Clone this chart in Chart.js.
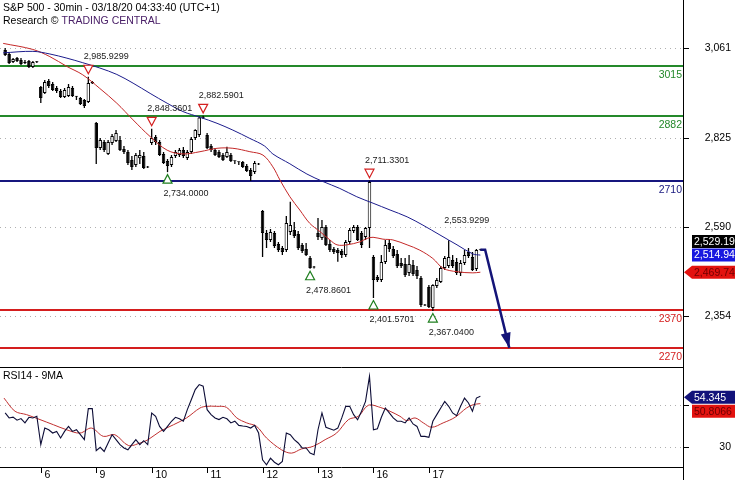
<!DOCTYPE html>
<html>
<head>
<meta charset="utf-8">
<script src="https://cdn.jsdelivr.net/npm/chart.js@4.4.1/dist/chart.umd.min.js"></script>
<style>
  html, body { margin: 0; padding: 0; background: #fff; }
  #wrap { position: relative; width: 735px; height: 480px; overflow: hidden; }
  #wrap canvas { position: absolute; left: 0; }
  #priceCanvas { top: 0; }
  #rsiCanvas { top: 367px; }
</style>
</head>
<body>
<div id="wrap">
  <canvas id="priceCanvas" width="735" height="367"></canvas>
  <canvas id="rsiCanvas" width="735" height="113"></canvas>
</div>
<script>
// --- axis / tick data ---
const dayLabels = ['6', '9', '10', '11', '12', '13', '16', '17'];
const dayStartIdx = [9, 23, 37, 51, 65, 79, 93, 107];
const priceTicks = [3061, 2825, 2590, 2354];
const rsiTicks = [50, 30];
const rsiTickLabels = ['', '30'];

// --- 30min candles (one entry per bar) ---
const opens = [
  3056.6, 3046.0, 3024.9, 3035.4, 3030.1, 3024.9, 3027.5, 3011.7, 3024.9,
  2958.8, 2943.0, 2974.7, 2966.8, 2956.2, 2948.3, 2932.4, 2935.1, 2956.2, 2934.0, 2929.8, 2924.5, 2919.2, 2972.0,
  2863.8, 2797.7, 2813.6, 2781.9, 2810.9, 2816.2, 2818.8, 2795.1, 2787.2, 2766.0, 2752.9, 2770.8, 2776.6, 2747.6,
  2811.0, 2826.8, 2813.6, 2781.9, 2763.4, 2752.9, 2776.6, 2779.2, 2792.4, 2771.3, 2787.2, 2824.1, 2832.1, 2878.0,
  2832.1, 2803.0, 2792.4, 2787.2, 2779.2, 2774.0, 2779.2, 2763.4, 2760.8, 2760.8, 2750.2, 2739.6, 2734.4, 2755.5,
  2631.3, 2573.2, 2554.8, 2573.2, 2544.2, 2533.6, 2528.3, 2575.9, 2581.2, 2570.6, 2541.6, 2531.0, 2507.2, 2483.4,
  2573.2, 2560.0, 2589.1, 2544.2, 2531.0, 2528.3, 2525.7, 2515.1, 2549.5, 2578.5, 2589.1, 2573.2, 2562.7, 2586.5,
  2509.9, 2457.0, 2449.1, 2496.7, 2546.8, 2531.0, 2517.8, 2494.0, 2491.4, 2467.6, 2488.7, 2475.5, 2454.4, 2383.1,
  2430.6, 2375.2, 2433.3, 2443.8, 2480.8, 2486.1, 2501.9, 2496.7, 2467.6, 2494.0, 2523.1, 2509.9, 2478.2, 2529.9
];
const highs = [
  3061.8, 3048.6, 3035.4, 3038.1, 3035.4, 3030.1, 3030.1, 3027.5, 3027.5,
  2961.5, 2977.3, 2980.0, 2972.0, 2961.5, 2953.6, 2956.2, 2966.8, 2961.5, 2935.1, 2932.4, 2927.2, 2985.93, 2974.7,
  2866.4, 2824.1, 2818.8, 2818.8, 2834.6, 2845.3, 2829.4, 2803.0, 2792.4, 2776.6, 2784.5, 2792.4, 2787.2, 2750.2,
  2848.36, 2832.1, 2818.8, 2787.2, 2768.7, 2779.2, 2792.4, 2797.7, 2800.4, 2792.4, 2826.8, 2847.0, 2881.0, 2882.59,
  2837.3, 2808.3, 2797.7, 2792.4, 2784.5, 2801.2, 2784.5, 2764.7, 2762.1, 2763.4, 2755.5, 2744.9, 2763.4, 2758.1,
  2634.0, 2581.2, 2583.8, 2578.5, 2549.5, 2538.9, 2618.1, 2655.9, 2602.3, 2578.5, 2546.8, 2546.8, 2512.5, 2486.1,
  2612.9, 2607.6, 2594.4, 2554.8, 2536.3, 2533.6, 2531.0, 2554.8, 2586.5, 2594.4, 2594.4, 2578.5, 2589.1, 2711.33,
  2515.1, 2462.3, 2515.1, 2554.8, 2554.8, 2538.9, 2528.3, 2507.2, 2507.2, 2515.1, 2501.9, 2486.1, 2459.7, 2385.7,
  2435.9, 2438.0, 2454.4, 2486.1, 2512.5, 2553.93, 2515.1, 2507.2, 2501.9, 2528.3, 2533.6, 2523.1, 2531.0, 2530.5
];
const lows = [
  3040.7, 3019.6, 3022.2, 3024.9, 3016.9, 3019.6, 3009.0, 3009.0, 3022.2,
  2916.6, 2940.3, 2956.2, 2948.3, 2943.0, 2929.8, 2929.8, 2932.4, 2932.4, 2924.5, 2911.3, 2903.4, 2916.6, 2966.8,
  2755.5, 2792.4, 2787.2, 2779.2, 2805.7, 2813.6, 2789.8, 2781.9, 2752.9, 2739.6, 2747.6, 2755.5, 2742.3, 2744.9,
  2805.7, 2805.7, 2776.6, 2755.5, 2734.0, 2747.6, 2771.3, 2774.0, 2771.3, 2766.0, 2781.9, 2818.8, 2826.8, 2874.3,
  2795.1, 2787.2, 2776.6, 2771.3, 2763.4, 2771.3, 2760.8, 2755.5, 2752.9, 2744.9, 2734.4, 2710.6, 2729.1, 2752.9,
  2509.9, 2533.6, 2549.5, 2533.6, 2523.1, 2515.2, 2523.1, 2568.0, 2560.0, 2528.3, 2520.4, 2512.5, 2478.86, 2479.5,
  2554.8, 2554.8, 2538.9, 2523.1, 2517.8, 2497.4, 2507.2, 2509.9, 2544.2, 2573.2, 2552.1, 2533.6, 2554.8, 2533.6,
  2401.57, 2443.8, 2443.8, 2491.4, 2523.1, 2507.2, 2480.8, 2480.8, 2457.0, 2459.7, 2459.7, 2451.8, 2377.8, 2380.5,
  2375.2, 2367.04, 2428.0, 2441.2, 2475.5, 2480.8, 2480.8, 2462.3, 2459.7, 2488.7, 2507.2, 2472.9, 2472.9, 2527.0
];
const closes = [
  3043.4, 3022.2, 3032.8, 3027.5, 3019.6, 3022.2, 3011.7, 3024.9, 3024.0,
  2929.8, 2972.0, 2961.5, 2950.9, 2948.3, 2932.4, 2950.9, 2958.8, 2935.1, 2932.8, 2914.0, 2908.7, 2969.4, 2968.5,
  2797.7, 2818.8, 2792.4, 2813.6, 2829.4, 2837.3, 2792.4, 2787.2, 2758.1, 2747.6, 2779.2, 2779.2, 2744.9, 2746.2,
  2824.1, 2813.6, 2779.2, 2758.1, 2750.2, 2774.0, 2787.2, 2792.4, 2776.6, 2787.2, 2821.5, 2845.3, 2878.0, 2876.5,
  2797.7, 2792.4, 2779.2, 2774.0, 2766.0, 2787.2, 2763.4, 2762.5, 2760.0, 2747.6, 2737.0, 2723.8, 2758.1, 2754.5,
  2573.2, 2554.8, 2575.9, 2538.9, 2528.3, 2523.1, 2599.7, 2594.4, 2565.3, 2533.6, 2525.7, 2515.2, 2480.8, 2482.0,
  2562.7, 2589.1, 2541.6, 2528.3, 2523.1, 2520.4, 2515.1, 2549.5, 2581.2, 2589.1, 2554.8, 2541.6, 2586.5, 2707.9,
  2449.1, 2449.1, 2496.7, 2541.6, 2531.0, 2512.5, 2486.1, 2486.1, 2462.3, 2491.4, 2464.9, 2459.7, 2383.1, 2382.0,
  2377.8, 2435.9, 2449.1, 2480.8, 2507.2, 2509.9, 2486.1, 2467.6, 2494.0, 2515.1, 2512.5, 2475.5, 2528.3, 2529.19
];

// --- moving averages on price (read at bar positions) ---
const maSlowX = [-0.5, 7.0, 11.3, 15.6, 19.6, 23.9, 28.2, 32.3, 36.6, 40.9, 44.9, 49.2, 53.5, 57.5, 61.8, 65.5, 67.6, 71.9, 76.2, 80.3, 84.5, 88.8, 92.9, 97.2, 101.5, 105.5, 109.8, 114.1, 118.1, 120];
const maSlowY = [3049, 3053, 3046, 3035, 3023, 3009, 2992, 2969, 2942, 2916, 2894, 2879, 2863, 2845, 2823, 2803, 2782, 2756, 2729, 2709, 2691, 2669, 2652, 2634, 2616, 2594, 2568, 2542, 2518, 2514.94];
const maFastX = [-0.5, 7.0, 11.3, 15.6, 19.6, 23.9, 28.2, 32.3, 36.6, 40.9, 44.9, 49.2, 53.5, 57.5, 61.8, 65.1, 67.6, 69.4, 71.9, 74.4, 76.9, 79.5, 82.0, 83.8, 86.3, 89.6, 91.4, 92.9, 95.4, 97.9, 101.5, 104.7, 108.0, 110.6, 114.1, 118.1, 120];
const maFastY = [3074, 3058, 3039, 3013, 2991, 2955, 2916, 2872, 2828, 2792, 2782, 2788, 2797, 2797, 2788, 2779, 2748, 2713, 2669, 2634, 2599, 2577, 2555, 2542, 2542, 2550, 2559, 2562, 2557, 2555, 2542, 2528, 2506, 2480, 2471, 2468, 2469.74];

// --- RSI14 and its 9MA ---
const rsiValues = [
  46.3, 43.9, 44.3, 42.8, 43.6, 41.5, 44.2, 43.9, 44.7,
  31.0, 39.0, 38.2, 36.6, 37.4, 34.2, 37.4, 39.8, 37.4, 38.2, 35.8, 33.4, 48.4, 48.4,
  28.1, 29.7, 27.7, 31.8, 35.8, 33.4, 31.0, 29.4, 28.5, 31.0, 33.4, 31.0, 32.9, 31.0,
  46.3, 44.7, 39.8, 37.4, 39.8, 42.3, 44.2, 43.5, 42.3, 47.9, 52.7, 57.6, 60.0, 59.2,
  47.9, 45.5, 43.9, 43.1, 44.2, 43.5, 41.5, 42.3, 40.3, 40.0, 39.8, 39.0, 40.3, 36.6,
  23.7, 21.3, 24.5, 22.5, 21.3, 22.9, 36.6, 35.8, 33.4, 31.8, 29.4, 29.4, 26.9, 26.1,
  38.2, 46.3, 39.4, 38.7, 38.0, 39.0, 43.9, 49.5, 49.5, 45.5, 43.0, 47.1, 51.9, 64.0,
  38.2, 38.7, 44.2, 48.7, 46.3, 43.9, 42.3, 42.3, 41.5, 43.9, 41.0, 39.8, 35.0, 35.0,
  34.5, 42.3, 45.5, 48.7, 51.9, 49.5, 46.3, 45.0, 49.5, 53.5, 51.1, 47.1, 53.5, 54.345
];
const rsiMaX = [-0.3, 2.5, 5.4, 8.8, 12.2, 15.5, 18.9, 21.8, 24.8, 27.7, 31.1, 34.1, 36.1, 39.1, 42.5, 45.8, 49.2, 50.9, 53.4, 55.9, 58.5, 61.0, 63.5, 66.0, 69.8, 72.3, 74.8, 77.8, 80.8, 83.7, 86.7, 89.2, 91.7, 94.7, 97.2, 99.7, 101.4, 103.5, 105.6, 107.7, 110.6, 113.6, 116.5, 118.2, 120];
const rsiMaY = [53.5, 47.1, 45.5, 43.1, 40.6, 38.2, 36.6, 39.0, 35.0, 35.8, 30.6, 31.8, 33.4, 37.4, 40.6, 43.9, 48.7, 49.5, 49.5, 49.0, 43.9, 41.5, 39.8, 34.2, 28.5, 26.9, 28.9, 30.2, 33.4, 36.6, 43.1, 44.7, 50.0, 49.0, 47.1, 44.7, 42.6, 43.9, 41.5, 39.4, 41.5, 44.2, 48.7, 50.3, 50.8066];

// --- support / resistance levels ---
const levelValues = [3015, 2882, 2710, 2370, 2270];
const levelColors = ['#24892a', '#24892a', '#16167e', '#d41e1e', '#d41e1e'];

// --- swing markers ---
const markIdx = [21, 37, 50, 92, 41, 77, 93, 108, 112];
const markVal = [2985.9299, 2848.3601, 2882.5901, 2711.3301, 2734.0000, 2478.8601, 2401.5701, 2367.0400, 2553.9299];
const markKind = ['high', 'high', 'high', 'high', 'low', 'low', 'low', 'low', 'text'];

// --- projected move ---
const projX = [120, 121.2, 127.3];
const projY = [2529.19, 2529.19, 2270];

const lastClose = 2529.19, lastSlowMa = 2514.94, lastFastMa = 2469.74;
const lastRsi = 54.345, lastRsiMa = 50.8066;

// scale ranges
const X_MIN = -1.303, X_MAX = 171.17;
const Y_MIN = 2219.4, Y_MAX = 3188.6;
const RSI_MIN = 20.2, RSI_MAX = 68.5;

const FONT = '"Liberation Sans", Arial, sans-serif';
const AXIS_X = 683;

function fmt(v, d) {
  return v.toLocaleString('en-US', { minimumFractionDigits: d, maximumFractionDigits: d });
}

function tagBox(ctx, yc, text, bg, fg, arrow) {
  const h = 13, x0 = 692, x1 = 735;
  ctx.fillStyle = bg;
  ctx.beginPath();
  if (arrow) {
    ctx.moveTo(AXIS_X + 1, yc);
    ctx.lineTo(x0, yc - h / 2);
  } else {
    ctx.moveTo(x0, yc - h / 2);
  }
  ctx.lineTo(x1, yc - h / 2);
  ctx.lineTo(x1, yc + h / 2);
  ctx.lineTo(x0, yc + h / 2);
  ctx.closePath();
  ctx.fill();
  ctx.fillStyle = fg;
  ctx.font = '10.5px ' + FONT;
  ctx.textAlign = 'left';
  ctx.textBaseline = 'middle';
  ctx.fillText(text, 694, yc + 0.5);
}

const priceDecor = {
  id: 'priceDecor',
  beforeDatasetsDraw(chart) {
    const { ctx, chartArea: a, scales: { y } } = chart;
    ctx.save();
    ctx.strokeStyle = '#b0b0b0';
    ctx.lineWidth = 1;
    ctx.setLineDash([1, 4]);
    priceTicks.forEach(v => {
      const py = Math.round(y.getPixelForValue(v)) + 0.5;
      ctx.beginPath(); ctx.moveTo(a.left, py); ctx.lineTo(a.right, py); ctx.stroke();
    });
    ctx.setLineDash([]);
    ctx.lineWidth = 2;
    levelValues.forEach((v, k) => {
      const py = Math.round(y.getPixelForValue(v));
      ctx.strokeStyle = levelColors[k];
      ctx.beginPath(); ctx.moveTo(a.left, py); ctx.lineTo(a.right, py); ctx.stroke();
    });
    ctx.restore();
  },
  afterDatasetsDraw(chart) {
    const { ctx, chartArea: a, scales: { x, y } } = chart;
    ctx.save();

    // level labels
    ctx.font = '10.5px ' + FONT;
    ctx.textAlign = 'right';
    ctx.textBaseline = 'alphabetic';
    levelValues.forEach((v, k) => {
      ctx.fillStyle = levelColors[k];
      ctx.fillText(String(v), a.right - 1, Math.round(y.getPixelForValue(v)) + 11.5);
    });

    // swing high / low markers
    ctx.lineWidth = 1.2;
    ctx.textAlign = 'left';
    markIdx.forEach((idx, k) => {
      const px = x.getPixelForValue(idx);
      const py = y.getPixelForValue(markVal[k]);
      const label = fmt(markVal[k], 4);
      ctx.font = '9px ' + FONT;
      if (markKind[k] === 'low') {
        const tip = py + 2.5;
        ctx.beginPath();
        ctx.moveTo(px, tip); ctx.lineTo(px + 4.5, tip + 8.5); ctx.lineTo(px - 4.5, tip + 8.5); ctx.closePath();
        ctx.fillStyle = '#fff'; ctx.fill();
        ctx.strokeStyle = '#1f7f1f'; ctx.stroke();
        ctx.fillStyle = '#1a1a1a';
        ctx.fillText(label, px - 4, tip + 21.5);
      } else {
        const tip = py - 3;
        if (markKind[k] === 'high') {
          ctx.beginPath();
          ctx.moveTo(px, tip); ctx.lineTo(px + 4.5, tip - 8.5); ctx.lineTo(px - 4.5, tip - 8.5); ctx.closePath();
          ctx.fillStyle = '#fff'; ctx.fill();
          ctx.strokeStyle = '#d42020'; ctx.stroke();
        }
        ctx.fillStyle = '#1a1a1a';
        ctx.fillText(label, px - 4.5, tip - 14.5);
      }
    });

    // arrowhead on the projection
    const meta = chart.getDatasetMeta(4);
    const p1 = meta.data[meta.data.length - 2];
    const p2 = meta.data[meta.data.length - 1];
    const ang = Math.atan2(p2.y - p1.y, p2.x - p1.x);
    const len = 15, half = 5;
    ctx.fillStyle = '#141478';
    ctx.beginPath();
    ctx.moveTo(p2.x, p2.y);
    ctx.lineTo(p2.x - len * Math.cos(ang) + half * Math.sin(ang), p2.y - len * Math.sin(ang) - half * Math.cos(ang));
    ctx.lineTo(p2.x - len * Math.cos(ang) - half * Math.sin(ang), p2.y - len * Math.sin(ang) + half * Math.cos(ang));
    ctx.closePath();
    ctx.fill();

    // title
    ctx.font = '10.5px ' + FONT;
    ctx.textAlign = 'left';
    ctx.fillStyle = '#000';
    ctx.fillText('S&P 500 - 30min - 03/18/20 04:33:40 (UTC+1)', 3, 10.5);
    const pre = 'Research \u00A9 ';
    ctx.fillText(pre, 3, 23.5);
    ctx.fillStyle = '#4a2068';
    ctx.fillText('TRADING CENTRAL', 3 + ctx.measureText(pre).width, 23.5);

    // right price axis
    ctx.strokeStyle = '#000';
    ctx.lineWidth = 1;
    ctx.beginPath(); ctx.moveTo(AXIS_X + 0.5, 0); ctx.lineTo(AXIS_X + 0.5, chart.height); ctx.stroke();
    ctx.fillStyle = '#000';
    ctx.textAlign = 'right';
    ctx.textBaseline = 'middle';
    priceTicks.forEach(v => {
      const py = Math.round(y.getPixelForValue(v)) + 0.5;
      ctx.beginPath(); ctx.moveTo(AXIS_X, py); ctx.lineTo(AXIS_X + 6, py); ctx.stroke();
      ctx.fillText(fmt(v, 0), 731, py);
    });

    // last value tags
    const yBlue = y.getPixelForValue(lastSlowMa);
    const yBlack = Math.min(y.getPixelForValue(lastClose), yBlue - 13.5);
    tagBox(ctx, yBlack, fmt(lastClose, 2), '#000', '#fff', false);
    tagBox(ctx, yBlue, fmt(lastSlowMa, 2), '#1818e0', '#fff', false);
    tagBox(ctx, y.getPixelForValue(lastFastMa), fmt(lastFastMa, 2), '#e3120f', '#700000', true);

    ctx.restore();
  }
};

const candleIdx = opens.map((_, i) => i);

new Chart(document.getElementById('priceCanvas'), {
  type: 'bar',
  data: {
    datasets: [
      {
        label: 'wick',
        data: candleIdx.map(i => ({ x: i, y: [lows[i], highs[i]] })),
        backgroundColor: '#000',
        borderWidth: 0,
        barThickness: 1.3,
        inflateAmount: 0,
        grouped: false,
        order: 2
      },
      {
        label: 'body',
        data: candleIdx.map(i => ({ x: i, y: [opens[i], closes[i]] })),
        backgroundColor: candleIdx.map(i => closes[i] >= opens[i] ? '#fff' : '#000'),
        borderColor: '#000',
        borderWidth: 1,
        borderSkipped: false,
        barThickness: 3.5,
        minBarLength: 1,
        inflateAmount: 0,
        grouped: false,
        order: 1
      },
      {
        type: 'line',
        label: 'MA slow',
        data: maSlowX.map((v, k) => ({ x: v, y: maSlowY[k] })),
        borderColor: '#1c1c8c',
        borderWidth: 1,
        pointRadius: 0,
        tension: 0.35,
        order: 0
      },
      {
        type: 'line',
        label: 'MA fast',
        data: maFastX.map((v, k) => ({ x: v, y: maFastY[k] })),
        borderColor: '#c42828',
        borderWidth: 1,
        pointRadius: 0,
        tension: 0.35,
        order: 0
      },
      {
        type: 'line',
        label: 'projection',
        data: projX.map((v, k) => ({ x: v, y: projY[k] })),
        borderColor: '#141478',
        borderWidth: 2.5,
        pointRadius: 0,
        tension: 0,
        order: -1
      }
    ]
  },
  options: {
    responsive: false,
    animation: false,
    devicePixelRatio: 1,
    events: [],
    layout: { padding: { left: 0, top: 0, right: 735 - AXIS_X, bottom: 0 } },
    plugins: { legend: { display: false }, tooltip: { enabled: false } },
    scales: {
      x: { type: 'linear', min: X_MIN, max: X_MAX, offset: false, display: false },
      y: { type: 'linear', min: Y_MIN, max: Y_MAX, display: false }
    }
  },
  plugins: [priceDecor]
});

const rsiDecor = {
  id: 'rsiDecor',
  beforeDatasetsDraw(chart) {
    const { ctx, chartArea: a, scales: { y } } = chart;
    ctx.save();
    ctx.strokeStyle = '#b0b0b0';
    ctx.lineWidth = 1;
    ctx.setLineDash([1, 4]);
    rsiTicks.forEach(v => {
      const py = Math.round(y.getPixelForValue(v)) + 0.5;
      ctx.beginPath(); ctx.moveTo(a.left, py); ctx.lineTo(a.right, py); ctx.stroke();
    });
    ctx.restore();
  },
  afterDatasetsDraw(chart) {
    const { ctx, chartArea: a, scales: { x, y } } = chart;
    ctx.save();
    ctx.strokeStyle = '#000';
    ctx.lineWidth = 1;
    // panel borders
    ctx.beginPath();
    ctx.moveTo(0, a.top + 0.5); ctx.lineTo(AXIS_X, a.top + 0.5);
    ctx.moveTo(0, a.bottom + 0.5); ctx.lineTo(AXIS_X, a.bottom + 0.5);
    ctx.moveTo(AXIS_X + 0.5, 0); ctx.lineTo(AXIS_X + 0.5, chart.height);
    ctx.stroke();

    // day ticks
    ctx.font = '10.5px ' + FONT;
    ctx.fillStyle = '#000';
    ctx.textAlign = 'left';
    ctx.textBaseline = 'alphabetic';
    dayStartIdx.forEach((idx, k) => {
      const px = Math.round(x.getPixelForValue(idx)) + 0.5;
      ctx.beginPath(); ctx.moveTo(px, a.bottom); ctx.lineTo(px, a.bottom + 6); ctx.stroke();
      ctx.fillText(dayLabels[k], px + 3, a.bottom + 10.5);
    });

    // right axis ticks
    ctx.textAlign = 'right';
    ctx.textBaseline = 'middle';
    rsiTicks.forEach((v, k) => {
      const py = Math.round(y.getPixelForValue(v)) + 0.5;
      ctx.beginPath(); ctx.moveTo(AXIS_X, py); ctx.lineTo(AXIS_X + 6, py); ctx.stroke();
      if (rsiTickLabels[k]) ctx.fillText(rsiTickLabels[k], 731, py);
    });

    // panel title
    ctx.textAlign = 'left';
    ctx.textBaseline = 'alphabetic';
    ctx.fillText('RSI14 - 9MA', 3, 11.5);

    // last value tags
    const yRsi = y.getPixelForValue(lastRsi) + 1;
    tagBox(ctx, yRsi, fmt(lastRsi, 3), '#12127a', '#fff', true);
    tagBox(ctx, yRsi + 14, fmt(lastRsiMa, 4), '#e3120f', '#700000', false);
    ctx.restore();
  }
};

new Chart(document.getElementById('rsiCanvas'), {
  type: 'line',
  data: {
    datasets: [
      {
        label: 'RSI14',
        data: rsiValues.map((v, i) => ({ x: i, y: v })),
        borderColor: '#0c0c36',
        borderWidth: 1.1,
        pointRadius: 0,
        tension: 0
      },
      {
        label: '9MA',
        data: rsiMaX.map((v, k) => ({ x: v, y: rsiMaY[k] })),
        borderColor: '#c03030',
        borderWidth: 1,
        pointRadius: 0,
        tension: 0.35
      }
    ]
  },
  options: {
    responsive: false,
    animation: false,
    devicePixelRatio: 1,
    events: [],
    layout: { padding: { left: 0, top: 0, right: 735 - AXIS_X, bottom: 13 } },
    plugins: { legend: { display: false }, tooltip: { enabled: false } },
    scales: {
      x: { type: 'linear', min: X_MIN, max: X_MAX, offset: false, display: false },
      y: { type: 'linear', min: RSI_MIN, max: RSI_MAX, display: false }
    }
  },
  plugins: [rsiDecor]
});
</script>
</body>
</html>
